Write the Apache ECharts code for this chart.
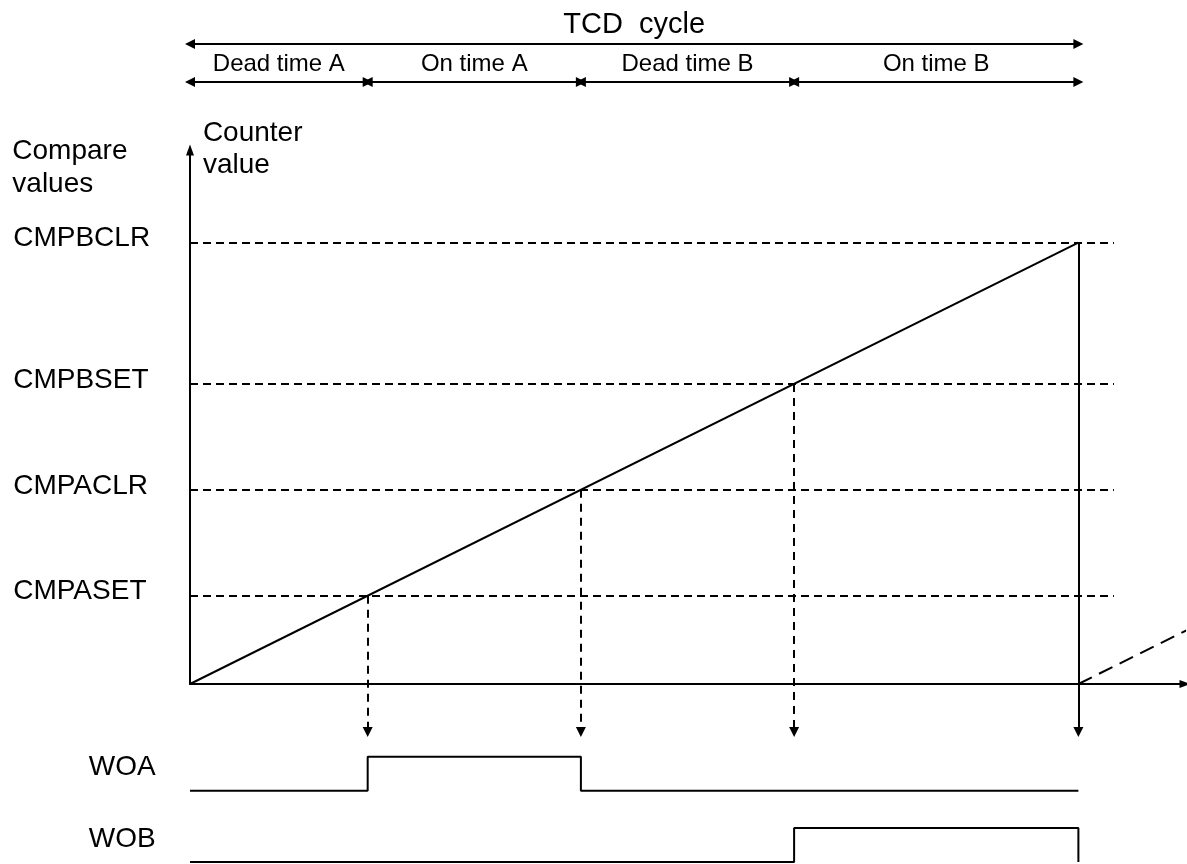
<!DOCTYPE html>
<html>
<head>
<meta charset="utf-8">
<script src="https://cdn.jsdelivr.net/npm/echarts@6/dist/echarts.min.js"></script>
<style>
html,body{margin:0;padding:0;background:#fff;}
#main{width:1187px;height:864px;}
</style>
</head>
<body>
<div id="main"></div>
<script>
// compare registers (counter units, ramp reaches CMPBCLR at end of cycle)
var compareNames = ['CMPASET', 'CMPACLR', 'CMPBSET', 'CMPBCLR'];
var compareValues = [20, 44, 68, 100];
// counter ramp and the start of the next cycle
var counterRamp = [[0, 0], [100, 100]];
var nextRamp = [[100, 0], [112.3, 12.3]];
// cycle segments
var segmentNames = ['Dead time A', 'On time A', 'Dead time B', 'On time B'];
var segmentBounds = [0, 20, 44, 68, 100];
// output waveforms (time, level)
var woaWave = [[0, 0], [20, 0], [20, 1], [44, 1], [44, 0], [100, 0]];
var wobWave = [[0, 0], [68, 0], [68, 1], [100, 1], [100, 0]];

var FONT = '"Liberation Sans", Arial, sans-serif';
var BIG = 28, SMALL = 24;
var WOA_OFFSET = 2.1;

var chart = echarts.init(document.getElementById('main'));

function txt(x, y, text, size, align, extra) {
	var lab = {show: true, position: 'inside', formatter: text, color: '#000',
		fontFamily: FONT, fontSize: size, align: align || 'center', verticalAlign: 'middle'};
	if (extra) for (var k in extra) lab[k] = extra[k];
	return {value: [x, y], label: lab};
}

var plain = {color: '#000', width: 2, opacity: 1};
var dashed = {color: '#000', width: 2, type: [8, 5], opacity: 1};

// horizontal compare lines, drop arrows
var hLines = [], dropLines = [], dropSolid = [];
compareValues.forEach(function (v, i) {
	hLines.push({coords: [[0, v], [104, v]]});
	var d = {coords: [[v, v], [v, -10.9]]};
	if (i == compareValues.length - 1) dropSolid.push(d); else dropLines.push(d);
});

// top arrows
var cycleArrow = [{coords: [[segmentBounds[0], 145], [segmentBounds[segmentBounds.length - 1], 145]]}];
var segArrows = [];
for (var i = 0; i < segmentNames.length; i++) {
	segArrows.push({coords: [[segmentBounds[i], 136.4], [segmentBounds[i + 1], 136.4]]});
}

// texts in the counter grid
var texts = [];
texts.push(txt(50, 149.3, 'TCD  cycle', 29));
for (var i = 0; i < segmentNames.length; i++) {
	texts.push(txt((segmentBounds[i] + segmentBounds[i + 1]) / 2, 140.5, segmentNames[i], SMALL));
}
compareNames.forEach(function (n, i) {
	texts.push(txt(-19.9, compareValues[i], n, BIG, 'left', {offset: [0, -4]}));
});
texts.push(txt(-20.0, 117.0, 'Compare\nvalues', BIG, 'left', {lineHeight: 33}));
texts.push(txt(1.45, 121.2, 'Counter\nvalue', BIG, 'left', {lineHeight: 32}));

var waveTexts = [txt(-11.4, WOA_OFFSET + 0.7, 'WOA', BIG, 'left'), txt(-11.4, 0.68, 'WOB', BIG, 'left')];

var arrowLine = {show: true, symbol: ['none', 'triangle'], symbolSize: [8, 11], lineStyle: {color: '#000', width: 2}};

option = {
	animation: false,
	backgroundColor: '#fff',
	grid: [
		{left: 190, top: 150, width: 995, height: 534},
		{left: 190, top: 756, width: 995, height: 106}
	],
	xAxis: [
		{type: 'value', gridIndex: 0, min: 0, max: 112, axisLine: arrowLine,
			axisTick: {show: false}, axisLabel: {show: false}, splitLine: {show: false}},
		{type: 'value', gridIndex: 1, min: 0, max: 112, show: false}
	],
	yAxis: [
		{type: 'value', gridIndex: 0, min: 0, max: 121, axisLine: arrowLine,
			axisTick: {show: false}, axisLabel: {show: false}, splitLine: {show: false}},
		{type: 'value', gridIndex: 1, min: 0, max: 3.12, show: false}
	],
	series: [
		{
			name: 'counter', type: 'line', xAxisIndex: 0, yAxisIndex: 0,
			data: counterRamp, symbol: 'none', lineStyle: plain, clip: false
		},
		{
			name: 'next', type: 'line', xAxisIndex: 0, yAxisIndex: 0,
			data: nextRamp, symbol: 'none', clip: false,
			lineStyle: {color: '#000', width: 2, type: [15, 8]}
		},
		{
			name: 'compare', type: 'lines', coordinateSystem: 'cartesian2d', xAxisIndex: 0, yAxisIndex: 0,
			data: hLines, lineStyle: dashed, symbol: 'none', clip: false
		},
		{
			name: 'drop', type: 'lines', coordinateSystem: 'cartesian2d', xAxisIndex: 0, yAxisIndex: 0,
			data: dropLines, lineStyle: {color: '#000', width: 2, type: [8, 6], opacity: 1},
			symbol: ['none', 'triangle'], symbolSize: 10, clip: false
		},
		{
			name: 'dropSolid', type: 'lines', coordinateSystem: 'cartesian2d', xAxisIndex: 0, yAxisIndex: 0,
			data: dropSolid, lineStyle: plain,
			symbol: ['none', 'triangle'], symbolSize: 10, clip: false
		},
		{
			name: 'cycle', type: 'lines', coordinateSystem: 'cartesian2d', xAxisIndex: 0, yAxisIndex: 0,
			data: cycleArrow.concat(segArrows), lineStyle: plain,
			symbol: ['triangle', 'triangle'], symbolSize: 10, clip: false
		},
		{
			name: 'texts', type: 'scatter', xAxisIndex: 0, yAxisIndex: 0,
			data: texts, symbolSize: 0, clip: false, silent: true, itemStyle: {opacity: 1}
		},
		{
			name: 'WOA', type: 'line', xAxisIndex: 1, yAxisIndex: 1,
			data: woaWave.map(function (p) { return [p[0], p[1] + WOA_OFFSET]; }),
			symbol: 'none', lineStyle: plain, clip: false
		},
		{
			name: 'WOB', type: 'line', xAxisIndex: 1, yAxisIndex: 1,
			data: wobWave, symbol: 'none', lineStyle: plain, clip: false
		},
		{
			name: 'waveTexts', type: 'scatter', xAxisIndex: 1, yAxisIndex: 1,
			data: waveTexts, symbolSize: 0, clip: false, silent: true, itemStyle: {opacity: 1}
		}
	]
};

chart.setOption(option);
</script>
</body>
</html>
